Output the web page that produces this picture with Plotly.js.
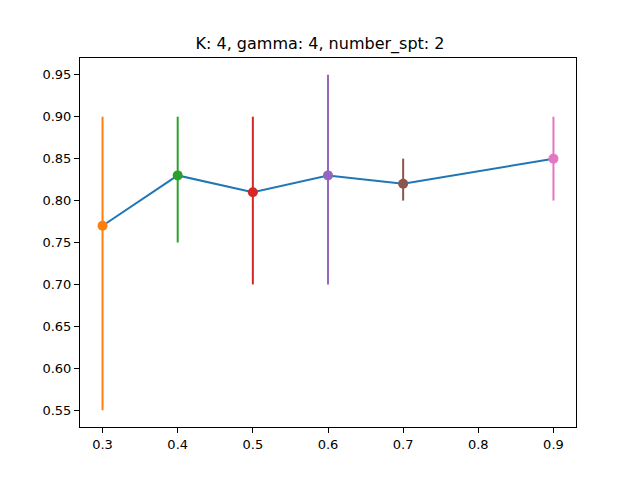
<!DOCTYPE html>
<html>
<head>
<meta charset="utf-8">
<script src="https://cdn.plot.ly/plotly-3.0.1.min.js"></script>
<style>
	html, body { margin: 0; padding: 0; background: #fff; }
	#plot { width: 640px; height: 480px; }
</style>
</head>
<body>
<div id="plot"></div>
<script>
const xValues = [0.3, 0.4, 0.5, 0.6, 0.7, 0.9];
const yValues = [0.77, 0.83, 0.81, 0.83, 0.82, 0.85];
const yLower = [0.55, 0.75, 0.70, 0.70, 0.80, 0.80];
const yUpper = [0.90, 0.90, 0.90, 0.95, 0.85, 0.90];
const pointColors = ["#ff7f0e", "#2ca02c", "#d62728", "#9467bd", "#8c564b", "#e377c2"];
const titleText = "K: 4, gamma: 4, number_spt: 2";

const lineTrace = {
	x: xValues,
	y: yValues,
	type: "scatter",
	mode: "lines",
	line: { color: "#1f77b4", width: 2 },
	hoverinfo: "skip",
};

// error bars first, one trace per colour
const errorTraces = xValues.map((x, i) => ({
	x: [x],
	y: [yValues[i]],
	type: "scatter",
	mode: "markers",
	marker: { color: pointColors[i], size: 1, opacity: 0 },
	error_y: {
		type: "data",
		symmetric: false,
		array: [yUpper[i] - yValues[i]],
		arrayminus: [yValues[i] - yLower[i]],
		color: pointColors[i],
		thickness: 2,
		width: 0,
	},
}));

// markers on top of the bars
const markerTrace = {
	x: xValues,
	y: yValues,
	type: "scatter",
	mode: "markers",
	marker: { color: pointColors, size: 10 },
};

const axisStyle = {
	showline: true,
	mirror: true,
	linecolor: "#000",
	linewidth: 1,
	showgrid: false,
	zeroline: false,
	ticks: "outside",
	ticklen: 5,
	tickwidth: 1,
	tickcolor: "#000",
	tickfont: { family: "DejaVu Sans", size: 13, color: "#000" },
};

const layout = {
	width: 640,
	height: 480,
	margin: { l: 80, r: 64, t: 58, b: 53 },
	paper_bgcolor: "#fff",
	plot_bgcolor: "#fff",
	showlegend: false,
	title: {
		text: titleText,
		font: { family: "DejaVu Sans", size: 16, color: "#000" },
		x: 0.5,
		xanchor: "center",
		y: 1 - 43 / 480,
		yanchor: "middle",
	},
	xaxis: Object.assign({}, axisStyle, {
		range: [0.27, 0.93],
		tick0: 0.3,
		dtick: 0.1,
		tickformat: ".1f",
	}),
	yaxis: Object.assign({}, axisStyle, {
		range: [0.53, 0.97],
		tick0: 0.55,
		dtick: 0.05,
		tickformat: ".2f",
	}),
};

Plotly.newPlot("plot", [lineTrace, ...errorTraces, markerTrace], layout, { displayModeBar: false, staticPlot: true });
</script>
</body>
</html>
